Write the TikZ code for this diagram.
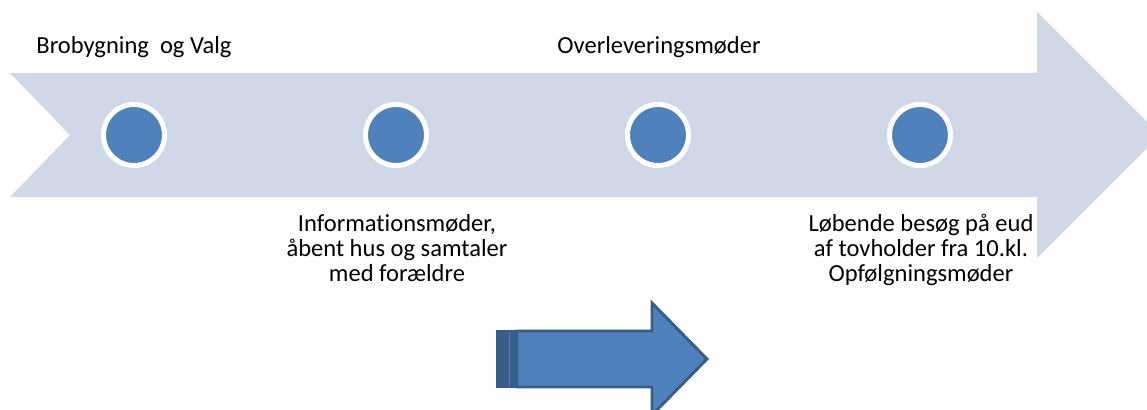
\documentclass[tikz,border=0pt]{standalone}
\usepackage{fontspec}
\setmainfont{Carlito}[Ligatures=NoCommon]
\definecolor{bandfill}{HTML}{D0D8E8}
\definecolor{dotfill}{HTML}{4F81BD}
\definecolor{arrowline}{HTML}{385D8A}
\tikzset{
  dot/.style={circle, fill=dotfill, draw=white, line width=3.75pt, minimum size=45.75pt, inner sep=0pt},
  label/.style={font=\fontsize{18.4}{18.6}\selectfont, align=center, inner sep=0pt, text=black},
  smallarrow/.style={fill=dotfill, draw=arrowline, line width=2.2pt, line join=miter},
  stripe/.style={fill=arrowline, draw=arrowline, line width=1.2pt}
}
\begin{document}
\begin{tikzpicture}[x=0.75pt, y=-0.75pt]
\useasboundingbox (0,0) rectangle (1147,410);
\clip (0,0) rectangle (1147,410);
% big background arrow
\fill[bandfill] (10,73) -- (1037,73) -- (1037,12) -- (1160,135) -- (1037,258) -- (1037,197) -- (10,197) -- (70,135) -- cycle;
% dots
\node[dot] (d1) at (134,135) {};
\node[dot] (d2) at (396,135) {};
\node[dot] (d3) at (658,135) {};
\node[dot] (d4) at (920,135) {};
% labels
\node[label] (t1) at (134,47) {Brobygning\ \ og Valg};
\node[label] (t2) at (659,47) {Overleveringsmøder};
\node[label] (t3) at (397,248) {Informationsmøder,\\åbent hus og samtaler\\med forældre};
\node[label] (t4) at (921,250) {Løbende besøg på eud\\af tovholder fra 10.kl.\\Opfølgningsmøder};
% small arrow
\path[stripe] (497,331) rectangle (517,387);
\draw[dotfill, line width=1pt] (509.5,332.5) -- (509.5,385.5);
\path[smallarrow] (517,331) -- (652,331) -- (652,303) -- (707,359) -- (652,415) -- (652,387) -- (517,387) -- cycle;
\end{tikzpicture}
\end{document}
